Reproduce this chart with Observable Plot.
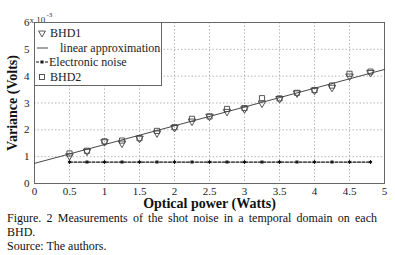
<!DOCTYPE html>
<html>
<head>
<meta charset="utf-8">
<script src="https://cdn.jsdelivr.net/npm/d3@7"></script>
<script src="https://cdn.jsdelivr.net/npm/@observablehq/plot@0.6"></script>
<style>
  html, body { margin: 0; padding: 0; background: #fff; }
  body { width: 395px; height: 255px; position: relative; overflow: hidden; font-family: "Liberation Serif", serif; }
  #chart { position: absolute; left: 0; top: 0; }
  #chart svg, #chart svg text, #legend svg text { font-family: "Liberation Serif", serif !important; }
  #legend { position: absolute; left: 34px; top: 22px; }
  #caption { position: absolute; left: 7px; top: 211px; width: 370px; font-size: 12px; line-height: 14px; color: #111; text-align: justify; }
</style>
</head>
<body>
<div id="chart"></div>
<div id="legend"></div>
<div id="caption"></div>
<script>
// Values in units of 10^-3 Volts
const power = [0.5, 0.75, 1, 1.25, 1.5, 1.75, 2, 2.25, 2.5, 2.75, 3, 3.25, 3.5, 3.75, 4, 4.25, 4.5, 4.8];
const bhd1 = [1.03, 1.2, 1.55, 1.5, 1.68, 1.88, 2.08, 2.32, 2.5, 2.68, 2.78, 2.99, 3.16, 3.37, 3.47, 3.58, 4.0, 4.13];
const bhd2 = [1.12, 1.22, 1.57, 1.6, 1.69, 1.96, 2.1, 2.41, 2.5, 2.78, 2.81, 3.18, 3.17, 3.38, 3.48, 3.65, 4.09, 4.17];
const noise = [0.8, 0.8, 0.8, 0.8, 0.8, 0.8, 0.8, 0.8, 0.8, 0.8, 0.8, 0.8, 0.8, 0.8, 0.8, 0.8, 0.8, 0.8];
const fitX = [0, 5];
const fitY = [0.75, 4.25];
const xTicks = [0, 0.5, 1, 1.5, 2, 2.5, 3, 3.5, 4, 4.5, 5];
const xTickLabels = ["0", "0.5", "1", "1.5", "2", "2.5", "3", "3.5", "4", "4.5", "5"];
const yTicks = [0, 1, 2, 3, 4, 5, 6];
const yTickLabels = ["0", "1", "2", "3", "4", "5", "6"];
const legendLabels = ["BHD1", "linear approximation", "Electronic noise", "BHD2"];
const captionLines = ["Figure. 2 Measurements of the shot noise in a temporal domain on each", "BHD.", "Source: The authors."];

const pts = power.map((p, i) => ({p, b1: bhd1[i], b2: bhd2[i], n: noise[i]}));
const fit = fitX.map((x, i) => ({x, y: fitY[i]}));
const serif = "Liberation Serif, serif";

const plot = Plot.plot({
  width: 395,
  height: 211,
  marginLeft: 34,
  marginRight: 11,
  marginTop: 22,
  marginBottom: 28,
  style: {fontFamily: serif, fontSize: "11px", color: "#222", background: "transparent"},
  x: {domain: [0, 5], ticks: xTicks, tickFormat: (d) => xTickLabels[xTicks.indexOf(d)], label: null},
  y: {domain: [0, 6], ticks: yTicks, tickFormat: (d) => yTickLabels[yTicks.indexOf(d)], label: null},
  marks: [
    Plot.gridX(xTicks, {stroke: "#999", strokeOpacity: 0.7, strokeDasharray: "1.5,2"}),
    Plot.gridY(yTicks, {stroke: "#999", strokeOpacity: 0.7, strokeDasharray: "1.5,2"}),
    Plot.axisX({ticks: xTicks, tickFormat: (d) => xTickLabels[xTicks.indexOf(d)], tickSize: 0, tickPadding: 4, label: null, fontFamily: serif}),
    Plot.axisY({ticks: yTicks, tickFormat: (d) => yTickLabels[yTicks.indexOf(d)], tickSize: 0, tickPadding: 5, label: null, fontFamily: serif}),
    Plot.frame({stroke: "#666"}),
    Plot.line(fit, {x: "x", y: "y", stroke: "#333", strokeWidth: 0.9}),
    Plot.line(pts, {x: "p", y: "n", stroke: "#111", strokeWidth: 1.2, strokeDasharray: "3,1.5"}),
    Plot.dot(pts, {x: "p", y: "n", symbol: "asterisk", r: 1.8, stroke: "#111", strokeWidth: 1}),
    Plot.dot(pts, {x: "p", y: "b1", symbol: "triangle", rotate: 180, r: 2.8, stroke: "#444", strokeWidth: 0.9}),
    Plot.dot(pts, {x: "p", y: "b2", symbol: "square", r: 2.9, stroke: "#444", strokeWidth: 0.9}),
    Plot.text(["x 10"], {frameAnchor: "top-left", dx: -5, dy: -6, textAnchor: "start", fontSize: 9, fill: "#333", fontFamily: serif}),
    Plot.text(["-3"], {frameAnchor: "top-left", dx: 12, dy: -10, textAnchor: "start", fontSize: 7, fill: "#333", fontFamily: serif}),
    Plot.text(["Optical power (Watts)"], {frameAnchor: "bottom", lineAnchor: "middle", dy: 20, fontSize: 14, fontWeight: "bold", fill: "#111", fontFamily: serif}),
    Plot.text(["Variance (Volts)"], {frameAnchor: "left", textAnchor: "middle", lineAnchor: "middle", dx: -22, rotate: -90, fontSize: 14, fontWeight: "bold", fill: "#111", fontFamily: serif})
  ]
});
document.getElementById("chart").appendChild(plot);
d3.select(plot).selectAll("text").attr("font-family", serif);

// Caption
const cap = d3.select("#caption");
captionLines.forEach((t, i) => {
  cap.append("div").style("text-align-last", i === 0 ? "justify" : "auto").text(t);
});

// Legend box
const lg = d3.select("#legend").append("svg").attr("width", 128).attr("height", 65)
  .attr("font-family", serif).attr("font-size", 12);
lg.append("rect").attr("x", 0.5).attr("y", 0.5).attr("width", 127).attr("height", 63).attr("fill", "#fff").attr("stroke", "#666");
const rows = [11, 26, 40, 55];
lg.append("path").attr("d", d3.symbol(d3.symbolTriangle, 20)()).attr("transform", `translate(8,${rows[0]}) rotate(180)`).attr("fill", "none").attr("stroke", "#444").attr("stroke-width", 0.9);
lg.append("line").attr("x1", 3).attr("x2", 14).attr("y1", rows[1]).attr("y2", rows[1]).attr("stroke", "#333").attr("stroke-width", 0.9);
lg.append("line").attr("x1", 2).attr("x2", 14).attr("y1", rows[2]).attr("y2", rows[2]).attr("stroke", "#111").attr("stroke-width", 1.2).attr("stroke-dasharray", "3,1.5");
lg.append("path").attr("d", d3.symbol(d3.symbolAsterisk, 10)()).attr("transform", `translate(8,${rows[2]})`).attr("fill", "none").attr("stroke", "#111");
lg.append("rect").attr("x", 5.5).attr("y", rows[3] - 2.5).attr("width", 5).attr("height", 5).attr("fill", "none").attr("stroke", "#444").attr("stroke-width", 0.9);
const textX = [16, 26, 15, 16];
legendLabels.forEach((t, i) => {
  lg.append("text").attr("x", textX[i]).attr("y", rows[i]).attr("dy", "0.35em").attr("fill", "#222").text(t);
});
</script>
</body>
</html>
